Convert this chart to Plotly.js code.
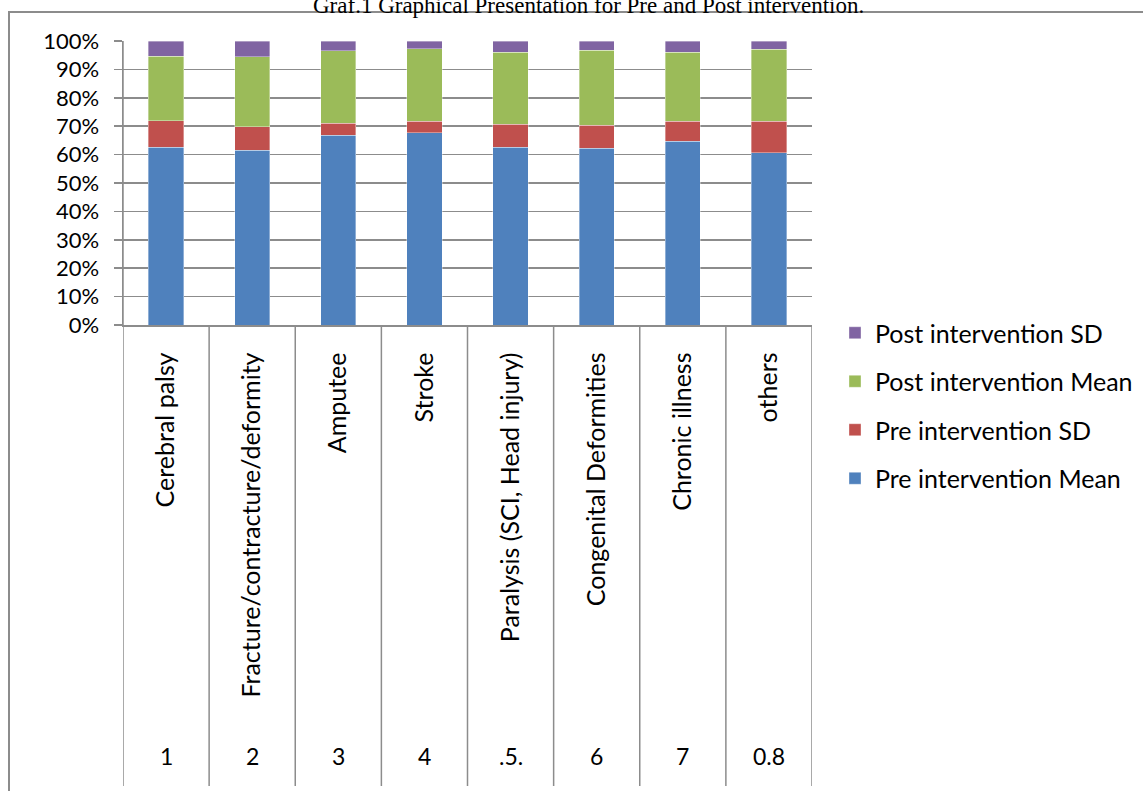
<!DOCTYPE html>
<html>
<head>
<meta charset="utf-8">
<script src="https://cdn.plot.ly/plotly-3.0.1.min.js"></script>
<style>
html,body{margin:0;padding:0;background:#fff;}
#chart{width:1143px;height:791px;}
</style>
</head>
<body>
<div id="chart"></div>
<script>
// ---- data ----
const categories = ["Cerebral palsy","Fracture/contracture/deformity","Amputee","Stroke","Paralysis (SCI, Head injury)","Congenital Deformities","Chronic illness","others"];
const numberLabels = ["1","2","3","4",".5.","6","7","0.8"];
const preMean  = [62.6, 61.5, 66.9, 67.7, 62.6, 62.3, 64.7, 60.7];
const preSD    = [ 9.3,  8.3,  4.2,  4.0,  8.1,  8.1,  7.1, 11.1];
const postMean = [22.7, 24.6, 25.4, 25.5, 25.3, 26.3, 24.2, 25.3];
const postSD   = [ 5.4,  5.6,  3.5,  2.8,  4.0,  3.3,  4.0,  2.9];
const seriesNames = ["Pre intervention Mean","Pre intervention SD","Post intervention Mean","Post intervention SD"];
const seriesColors = ["#4F81BD","#C0504D","#9BBB59","#8064A2"];
const seriesValues = [preMean, preSD, postMean, postSD];

// ---- geometry (pixels) ----
const W = 1143, H = 791;
const mL = 123, mR = 331, mT = 41, mB = 466;
const plotH = H - mT - mB;
const py = p => (H - mB - p) / plotH;        // pixel y -> paper y
const pxp = p => (p - mL) / (W - mL - mR);  // pixel x -> paper x

const FONT = "Lato, 'Noto Sans', sans-serif";
const xs = categories.map((c, i) => i);

const traces = seriesValues.map((vals, k) => ({
  type: "bar",
  name: seriesNames[k],
  x: xs,
  y: vals,
  legendgroup: "g" + k,
  legendrank: 1000 - k,
  marker: {color: seriesColors[k], line: {width: 0.6, color: "rgba(255,255,255,0.6)"}},
  hoverinfo: "skip"
}));

const shapes = [];
// divider lines between categories, extending below the axis
for (let i = 0; i <= categories.length; i++) {
  shapes.push({type: "line", xref: "x", yref: "paper",
    x0: i - 0.5, x1: i - 0.5, y0: (i === 0 ? 1 : 0), y1: py(786),
    line: {color: "#8C8C8C", width: 1.5}, layer: "above"});
}
// outer chart frame
shapes.push({type: "rect", xref: "paper", yref: "paper",
  x0: pxp(9), x1: pxp(1160), y0: py(12), y1: py(820),
  line: {color: "#8C8C8C", width: 2}, fillcolor: "rgba(0,0,0,0)"});

const annotations = numberLabels.map((t, i) => ({
  xref: "x", yref: "paper", x: i, y: py(756),
  text: t, showarrow: false, xanchor: "center", yanchor: "middle",
  font: {family: FONT, size: 23, color: "#000"}
}));
annotations.push({
  xref: "paper", yref: "paper", x: pxp(588), y: 1, yshift: 21,
  xanchor: "center", yanchor: "bottom", showarrow: false,
  text: "Graf.1 Graphical Presentation for Pre and Post intervention.",
  font: {family: "'Liberation Serif', 'Times New Roman', serif", size: 23, color: "#000"}
});

const layout = {
  width: W, height: H,
  margin: {l: mL, r: mR, t: mT, b: mB, pad: 0, autoexpand: false},
  paper_bgcolor: "#fff", plot_bgcolor: "#fff",
  barmode: "stack", barnorm: "percent",
  bargap: 0.59,
  showlegend: true,
  legend: {
    x: pxp(835), xanchor: "left", y: py(310), yanchor: "top",
    traceorder: "grouped", tracegroupgap: 13,
    font: {family: FONT, size: 25, color: "#000"},
    bgcolor: "rgba(0,0,0,0)"
  },
  xaxis: {
    range: [-0.5, categories.length - 0.5],
    tickmode: "array", tickvals: xs, ticktext: categories,
    tickangle: -90, ticks: "", ticklabelstandoff: 16,
    tickfont: {family: FONT, size: 25, color: "#000"},
    showgrid: false, zeroline: false,
    showline: true, linecolor: "#8C8C8C", linewidth: 1.5,
    automargin: false, fixedrange: true
  },
  yaxis: {
    range: [0, 100], tick0: 0, dtick: 10, ticksuffix: "%",
    ticks: "outside", ticklen: 8, tickcolor: "#8C8C8C", tickwidth: 1.5,
    showgrid: true, gridcolor: "#8C8C8C", gridwidth: 1.5,
    zeroline: false, showline: true, linecolor: "#8C8C8C", linewidth: 1.5,
    tickfont: {family: FONT, size: 22, color: "#000"},
    ticklabelstandoff: 10,
    automargin: false, fixedrange: true
  },
  shapes: shapes,
  annotations: annotations
};

Plotly.newPlot("chart", traces, layout, {displayModeBar: false, staticPlot: true});
</script>
</body>
</html>
